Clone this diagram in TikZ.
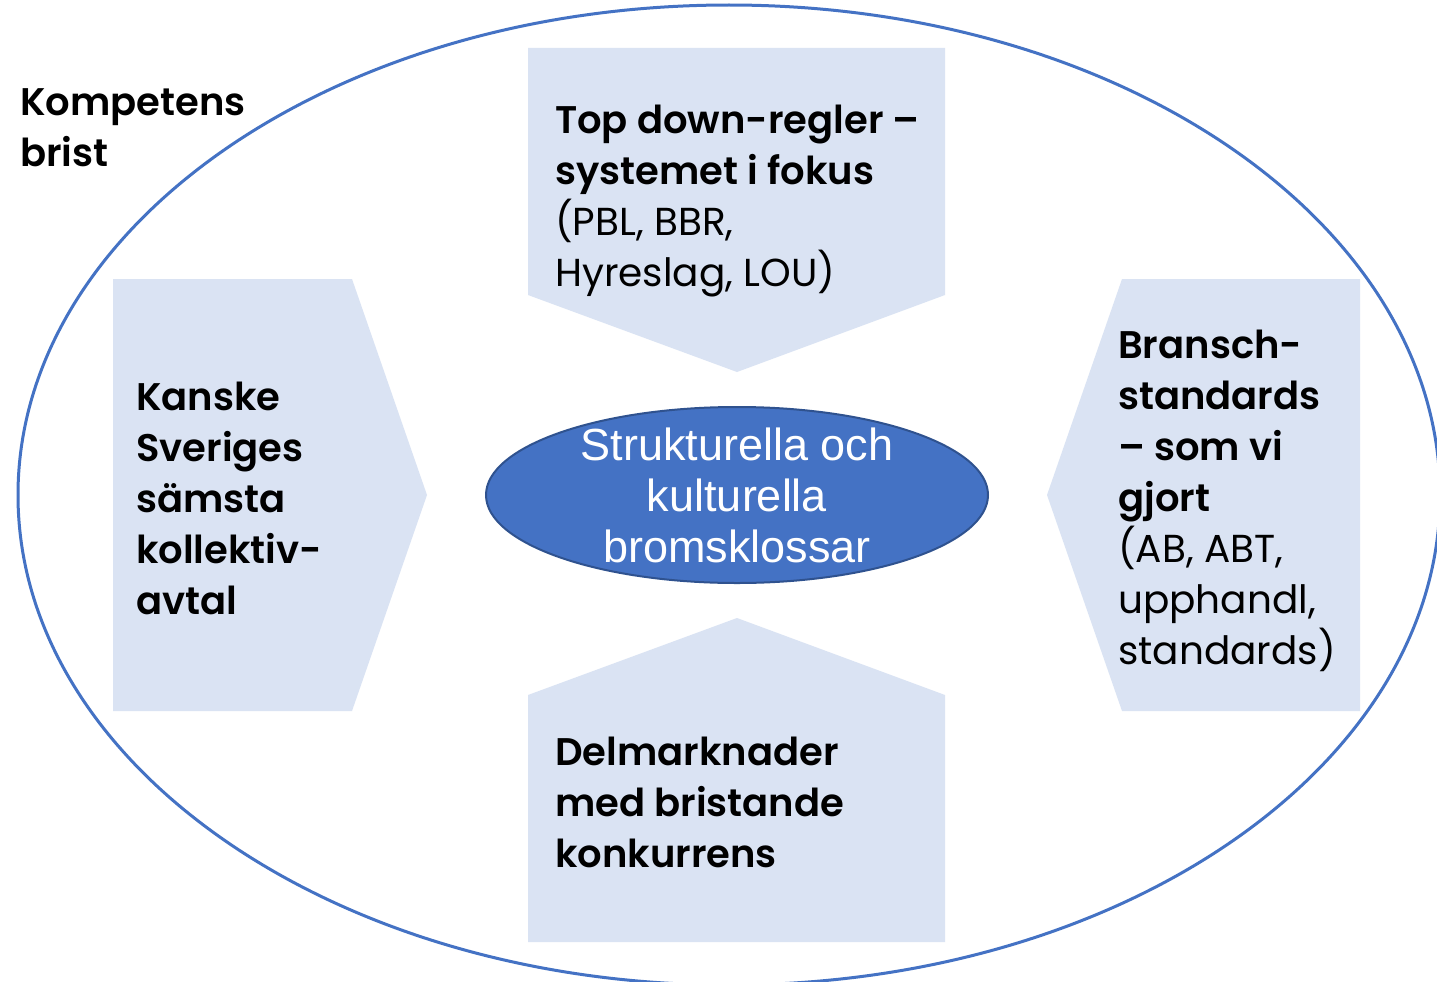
\documentclass[tikz,border=0pt]{standalone}
\usepackage{fontspec}
\usetikzlibrary{shapes.geometric}
\setmainfont{Poppins}[BoldFont={Poppins SemiBold}]
\newfontfamily\centerfont{Liberation Sans}
\definecolor{pale}{HTML}{DAE3F3}
\definecolor{mainblue}{HTML}{4472C4}
\definecolor{darkblue}{HTML}{2F528F}
\tikzset{
  x=1pt, y=-1pt,
  panel/.style={fill=pale, draw=none},
  boldline/.style={anchor=base west, inner sep=0pt, font=\fontsize{38.5}{46}\selectfont\bfseries, text=black},
  plainline/.style={anchor=base west, inner sep=0pt, font=\fontsize{39}{46}\selectfont, text=black},
  centerline/.style={anchor=base, inner sep=0pt, font=\centerfont\fontsize{45}{52}\selectfont, text=white},
}
\begin{document}
\begin{tikzpicture}
\useasboundingbox (0,0) rectangle (1437,982);
\clip (0,0) rectangle (1437,982);
\fill[white] (0,0) rectangle (1437,982);
% outer ellipse
\draw[mainblue, line width=3pt] (729,495) ellipse [x radius=711, y radius=490];
% panels
\fill[panel] (528,48) -- (945,48) -- (945,295) -- (737,372) -- (528,295) -- cycle;
\fill[panel] (528,942) -- (945,942) -- (945,695) -- (737,618) -- (528,695) -- cycle;
\fill[panel] (113,279) -- (352,279) -- (427,495) -- (352,711) -- (113,711) -- cycle;
\fill[panel] (1360,279) -- (1122,279) -- (1047,495) -- (1122,711) -- (1360,711) -- cycle;
% center ellipse
\node[draw=darkblue, line width=2pt, fill=mainblue, ellipse, minimum width=502pt, minimum height=176pt, inner sep=0pt] (core) at (737,495) {};
% corner label
\node[boldline] (k1) at (20,115) {Kompetens};
\node[boldline] (k2) at (20,166) {brist};
% top
\node[boldline] (t1) at (555,133) {Top down-regler –};
\node[boldline] (t2) at (555,184) {systemet i fokus};
\node[plainline] (t3) at (555,235) {(PBL, BBR,};
\node[plainline] (t4) at (555,286) {Hyreslag, LOU)};
% left
\node[boldline] (l1) at (136,410) {Kanske};
\node[boldline] (l2) at (136,461) {Sveriges};
\node[boldline] (l3) at (136,512) {sämsta};
\node[boldline] (l4) at (136,563) {kollektiv-};
\node[boldline] (l5) at (136,614) {avtal};
% right
\node[boldline] (r1) at (1118,358) {Bransch-};
\node[boldline] (r2) at (1118,409) {standards};
\node[boldline] (r3) at (1118,460) {– som vi};
\node[boldline] (r4) at (1118,511) {gjort};
\node[plainline] (r5) at (1118,562) {(AB, ABT,};
\node[plainline] (r6) at (1118,613) {upphandl,};
\node[plainline] (r7) at (1118,664) {standards)};
% bottom
\node[boldline] (b1) at (555,765) {Delmarknader};
\node[boldline] (b2) at (555,816) {med bristande};
\node[boldline] (b3) at (555,867) {konkurrens};
% center text
\node[centerline] (c1) at (737,460) {Strukturella och};
\node[centerline] (c2) at (737,511) {kulturella};
\node[centerline] (c3) at (737,562) {bromsklossar};
\end{tikzpicture}
\end{document}
